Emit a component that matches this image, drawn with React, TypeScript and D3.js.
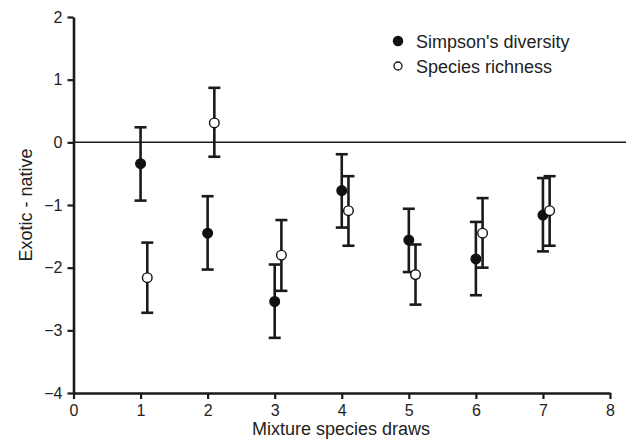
import React, { useEffect, useRef } from 'react';
import * as d3 from 'd3';

const width = 626;
const height = 448;

const draws = [1, 2, 3, 4, 5, 6, 7];
// Simpson's diversity (filled)
const simpsonMean = [-0.34, -1.45, -2.54, -0.77, -1.56, -1.86, -1.16];
const simpsonLow = [-0.93, -2.03, -3.12, -1.36, -2.07, -2.44, -1.74];
const simpsonHigh = [0.24, -0.86, -1.95, -0.19, -1.06, -1.27, -0.57];
// Species richness (open)
const richMean = [-2.16, 0.31, -1.80, -1.09, -2.11, -1.45, -1.09];
const richLow = [-2.72, -0.23, -2.37, -1.65, -2.59, -2.00, -1.65];
const richHigh = [-1.60, 0.87, -1.24, -0.54, -1.63, -0.89, -0.54];

const xTicks = [0, 1, 2, 3, 4, 5, 6, 7, 8];
const yTicks = [-4, -3, -2, -1, 0, 1, 2];
const legendLabels = ["Simpson's diversity", 'Species richness'];

const font = 'Liberation Sans, Arial, Helvetica, sans-serif';

export default function App() {
  const svgRef = useRef<SVGSVGElement>(null);

  useEffect(() => {
    const svg = d3.select(svgRef.current);
    svg.selectAll('*').remove();

    const x = d3.scaleLinear().domain([0, 8]).range([73.5, 610]);
    const y = d3.scaleLinear().domain([-4, 2]).range([393, 17]);

    // zero line
    svg.append('line')
      .attr('x1', x(0)).attr('x2', width)
      .attr('y1', y(0)).attr('y2', y(0))
      .attr('stroke', '#1a1a1a').attr('stroke-width', 1.5);

    // axes
    const xAxis = svg.append('g')
      .attr('transform', 'translate(0,' + y(-4) + ')')
      .call(d3.axisBottom(x).tickValues(xTicks).tickSize(6).tickPadding(6).tickSizeOuter(0)
        .tickFormat(d3.format('d')));
    const yAxis = svg.append('g')
      .attr('transform', 'translate(' + x(0) + ',0)')
      .call(d3.axisLeft(y).tickValues(yTicks).tickSize(6).tickPadding(5).tickSizeOuter(0)
        .tickFormat((d: any) => String(d).replace('-', '\u2212')));

    [xAxis, yAxis].forEach(g => {
      g.select('.domain').attr('stroke', '#1a1a1a').attr('stroke-width', 2.6);
      g.selectAll('.tick line').attr('stroke', '#1a1a1a').attr('stroke-width', 2.2);
      g.selectAll('.tick text')
        .attr('font-family', font).attr('font-size', 16).attr('fill', '#222');
    });

    // axis titles
    svg.append('text')
      .attr('x', 341).attr('y', 435)
      .attr('text-anchor', 'middle')
      .attr('font-family', font).attr('font-size', 18).attr('fill', '#222')
      .text('Mixture species draws');
    svg.append('text')
      .attr('transform', 'translate(32,' + y(-1) + ') rotate(-90)')
      .attr('text-anchor', 'middle')
      .attr('font-family', font).attr('font-size', 18).attr('fill', '#222')
      .text('Exotic - native');

    const series = [
      { mean: simpsonMean, low: simpsonLow, high: simpsonHigh, off: 0, filled: true },
      { mean: richMean, low: richLow, high: richHigh, off: 0.1, filled: false },
    ];

    series.forEach(s => {
      const g = svg.append('g');
      const cap = 6;
      draws.forEach((d, i) => {
        const cx = x(d + s.off);
        g.append('line')
          .attr('x1', cx).attr('x2', cx)
          .attr('y1', y(s.low[i])).attr('y2', y(s.high[i]))
          .attr('stroke', '#1a1a1a').attr('stroke-width', 2.6);
        [s.low[i], s.high[i]].forEach(v => {
          g.append('line')
            .attr('x1', cx - cap).attr('x2', cx + cap)
            .attr('y1', y(v)).attr('y2', y(v))
            .attr('stroke', '#1a1a1a').attr('stroke-width', 2.6);
        });
      });
      g.selectAll('circle').data(draws).enter()
        .append('circle')
        .attr('cx', (d, i) => x(d + s.off))
        .attr('cy', (d, i) => y(s.mean[i]))
        .attr('r', 4.8)
        .attr('fill', s.filled ? '#111' : '#fff')
        .attr('stroke', '#111')
        .attr('stroke-width', 1.4);
    });

    // legend
    const legend = svg.append('g');
    legendLabels.forEach((label, i) => {
      const ly = 41 + i * 25;
      legend.append('circle')
        .attr('cx', 398).attr('cy', ly)
        .attr('r', i === 0 ? 4.6 : 4)
        .attr('fill', i === 0 ? '#111' : '#fff')
        .attr('stroke', '#111').attr('stroke-width', 1.3);
      legend.append('text')
        .attr('x', 416).attr('y', ly + 6.5)
        .attr('font-family', font).attr('font-size', 18).attr('fill', '#222')
        .text(label);
    });
  }, []);

  return (
    <div style={{ position: 'absolute', left: 0, top: 0 }}>
      <svg ref={svgRef} width={width} height={height} style={{ display: 'block', background: '#fff' }} />
    </div>
  );
}
